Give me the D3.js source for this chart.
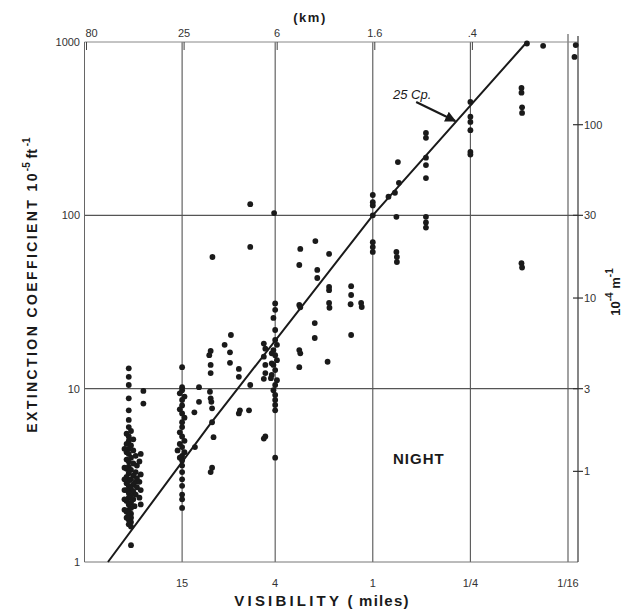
<!DOCTYPE html>
<html><head><meta charset="utf-8">
<script src="https://cdn.jsdelivr.net/npm/d3@7"></script>
<style>body{margin:0;background:#fff} svg{display:block}</style>
</head><body><svg id="c" width="627" height="612"></svg>
<script>
// ---------- data ----------
const visTicks = [15, 4, 1, 0.25, 0.0625];
const visTickLabels = ["15", "4", "1", "1/4", "1/16"];
const kmTickAt = [60, 15, 4, 1, 0.25];
const kmTickLabels = ["80", "25", "6", "1.6", ".4"];
const extTicks = [1, 10, 100, 1000];
const extTickLabels = ["1", "10", "100", "1000"];
const metricTicks = [1, 3, 10, 30, 100];
const metricTickLabels = ["1", "3", "10", "30", "100"];

// 25 candlepower curve (visibility miles, extinction 1e-5 ft^-1)
const lineVis = [43, 10, 1, 0.112];
const lineExt = [1, 6.3, 100, 1000];

// observations [visibility miles, extinction 1e-5 ft^-1]
const obs30mi = [
  [32,13.1],[32,11.7],[32,10.5],[32,8.8],[32,7.5],[32,6.6],[32,6.0],
  [31,5.7],[33,5.5],[32,5.3],[30,5.1],[32,5.0],[33,4.8],[31,4.7],[32,4.5],[30,4.4],
  [33,4.3],[32,4.2],[29,4.1],[31,4.0],[33,3.9],[32,3.8],[30,3.7],[28.5,3.6],[32,3.55],
  [33,3.45],[31,3.4],[29,3.3],[32,3.25],[30,3.15],[33,3.1],[28.5,3.05],[31,3.0],[32,2.95],
  [29,2.9],[33,2.85],[30,2.8],[32,2.75],[28.5,2.7],[31,2.65],[33,2.6],[30,2.55],[32,2.5],
  [29,2.45],[31,2.4],[32,2.35],[30,2.3],[33,2.25],[31,2.2],[32,2.15],[29.5,2.1],[31,2.05],
  [32,2.0],[33,1.95],[31,1.9],[32,1.85],[31,1.8],[32,1.75],[31,1.7],[32,1.65],[31,1.6],
  [31,1.25],[26,9.7],[26,8.2],
  [27,3.2],[27.5,2.9],[27,2.6],[27.5,2.35],[34,3.0],[34,2.6],[34,2.3],[27,4.2],[34,4.5],[27.5,3.8],
  [34,3.5],[27,2.15],[34,2.0],[33,1.8]
];
const obs15mi = [
  [15,13.3],[15,10.2],[15,9.8],[15.5,9.4],[14.5,9.0],[15,8.6],[15,8.0],[15.5,7.6],[15,7.2],
  [14.5,6.8],[15,6.4],[15,6.0],[15.5,5.6],[15,5.3],[14.5,5.0],[15.5,4.8],[15,4.6],[16,4.4],
  [14.5,4.3],[15,4.1],[15.5,4.0],[15,3.85],[15,3.6],[15,3.3],[15,3.0],[15,2.75],[15,2.45],
  [15,2.3],[15,2.05]
];
const obsMid = [
  [11.8,10.2],[11.8,8.4],[12.6,7.3],[12.5,4.6],
  [10.2,15.6],[10,16.5],[8.2,17.9],[7.5,20.4],[7.6,16.2],[7.6,14.1],[6.7,13.0],[6.7,11.7],
  [10,13.7],[10,12.3],[10.1,9.6],[10,8.8],[9.9,8.4],[9.8,7.7],[9.8,6.4],[9.6,5.25],[9.8,3.5],[10,3.3],
  [6.7,7.2],[5.8,7.5],[6.6,7.5],[5.7,10.5],
  [4.7,18.2],[4.6,17],[4.7,15.3],[4.6,13.7],[4.6,12.3],[4.7,11.4],[4.6,5.3],[4.7,5.15],
  [5.7,116],[4.06,103],[5.7,65.7],[9.75,57.5]
];
const obs4mi = [
  [4,31],[4,28.5],[4.1,25.6],[4,21.8],[4,19.1],[3.9,17.9],[4.1,16.7],[4,15.6],[3.9,14.6],
  [4.1,13.7],[4,12.8],[4.2,12.0],[3.9,11.2],[4,10.5],[4.1,9.8],[4,9.2],[4,8.6],[4,8.05],[4,7.5],
  [4,4.0],[4.2,16],[4.2,14],[4.25,11.5]
];
const obsNear = [
  [2.84,30.4],[2.8,29.5],[2.84,16.7],[2.8,16],[2.84,13.3],[2.28,23.9],[2.28,19.6],[1.9,14.3],
  [2.8,64],[2.84,51.7],[2.26,71],[1.86,59.9],[2.2,48.4],[2.2,43.5],[1.86,38.6],[1.86,37],
  [1.86,31.2],[1.85,29.3],[1.36,39],[1.36,34.7],[1.37,30.7],[1.18,31.2],[1.17,29.6],[1.36,20.4],
  [1,131],[1,119],[1,114],[1,100],[1,70],[1,65.6],[1,61.5],
  [0.715,98],[0.715,61.5],[0.71,57.5],[0.71,53.8],[0.47,98],[0.47,91],[0.47,85],
  [0.8,128],[0.73,135],[0.69,154],[0.70,203],
  [0.47,299],[0.47,280],[0.47,215],[0.47,195],[0.47,164],
  [0.25,451],[0.25,371],[0.25,346],[0.25,310],[0.25,232],[0.25,224],
  [0.121,543],[0.121,510],[0.12,420],[0.12,390],[0.121,53],[0.12,50],
  [0.089,950],[0.112,980],[0.056,960],[0.057,820]
];

// annotation anchors (data space)
const cpLabel = {text: "25 Cp.", vis: 0.75, ext: 470};
const cpArrow = {fromVis: 0.54, fromExt: 451, toVis: 0.31, toExt: 350};
const nightLabel = {text: "NIGHT", vis: 0.52, ext: 4};

// ---------- drawing ----------
(function () {
const svg = d3.select("#c");
const pLeft = 84.5, pRightGrid = 568, pRightAxis = 578, pTop = 42, pBottom = 562;

const x = d3.scaleLog().domain([60, 0.0625]).range([pLeft, pRightGrid]);
const y = d3.scaleLog().domain([1, 1000]).range([pBottom, pTop]);
const yM = d3.scaleLog().domain([0.3, 300]).range([pBottom, pTop]);

const font = "'Liberation Sans', Arial, sans-serif";
const ink = "#1a1a1a";

const g = svg.append("g");
g.selectAll("line.vgrid").data(visTicks).join("line")
  .attr("x1", d => x(d)).attr("x2", d => x(d))
  .attr("y1", (d, i) => i === visTicks.length - 1 ? pTop - 8 : pTop).attr("y2", pBottom)
  .attr("stroke", "#555").attr("stroke-width", 1.1);
g.selectAll("line.hgrid").data([10, 100]).join("line")
  .attr("x1", pLeft).attr("x2", pRightAxis)
  .attr("y1", d => y(d)).attr("y2", d => y(d))
  .attr("stroke", "#555").attr("stroke-width", 1.1);
g.append("line").attr("x1", pLeft).attr("x2", pRightAxis).attr("y1", y(1000)).attr("y2", y(1000))
  .attr("stroke", "#888").attr("stroke-width", 1);
g.append("line").attr("x1", pLeft).attr("x2", pRightAxis).attr("y1", y(1)).attr("y2", y(1))
  .attr("stroke", "#777").attr("stroke-width", 1);
g.append("line").attr("x1", pLeft).attr("x2", pLeft).attr("y1", pTop).attr("y2", pBottom)
  .attr("stroke", "#666").attr("stroke-width", 1);
g.append("line").attr("x1", pRightAxis).attr("x2", pRightAxis).attr("y1", pTop - 6).attr("y2", pBottom)
  .attr("stroke", "#444").attr("stroke-width", 1.3);

g.selectAll("line.kmt").data(kmTickAt).join("line")
  .attr("x1", d => x(d) + 2).attr("x2", d => x(d) + 2).attr("y1", pTop).attr("y2", pTop + 8)
  .attr("stroke", "#444").attr("stroke-width", 1);

g.selectAll("line.mt").data(metricTicks).join("line")
  .attr("x1", pRightAxis - 5).attr("x2", pRightAxis + 5)
  .attr("y1", d => yM(d)).attr("y2", d => yM(d))
  .attr("stroke", "#333").attr("stroke-width", 1.2);

svg.selectAll("text.xb").data(visTicks).join("text")
  .attr("x", d => x(d)).attr("y", 587).attr("text-anchor", "middle")
  .attr("font-family", font).attr("font-size", 11).attr("fill", "#333")
  .text((d, i) => visTickLabels[i]);
svg.selectAll("text.xt").data(kmTickAt).join("text")
  .attr("x", (d, i) => x(d) + (i === 0 ? 7 : 2)).attr("y", 37).attr("text-anchor", "middle")
  .attr("font-family", font).attr("font-size", 11).attr("fill", "#333")
  .text((d, i) => kmTickLabels[i]);
svg.selectAll("text.yl").data(extTicks).join("text")
  .attr("x", 80).attr("y", d => y(d) + 4).attr("text-anchor", "end")
  .attr("font-family", font).attr("font-size", 11).attr("fill", "#333")
  .text((d, i) => extTickLabels[i]);
svg.selectAll("text.yr").data(metricTicks).join("text")
  .attr("x", pRightAxis + 6).attr("y", d => yM(d) + 4).attr("text-anchor", "start")
  .attr("font-family", font).attr("font-size", 11).attr("fill", "#333")
  .text((d, i) => metricTickLabels[i]);

svg.append("text").attr("x", 310).attr("y", 22).attr("text-anchor", "middle")
  .attr("font-family", font).attr("font-size", 13).attr("font-weight", "bold")
  .attr("letter-spacing", 1.5).attr("fill", ink).text("(km)");

const xt = svg.append("text").attr("x", 322).attr("y", 606).attr("text-anchor", "middle")
  .attr("font-family", font).attr("font-size", 15).attr("fill", ink).attr("font-weight", "bold");
xt.append("tspan").attr("letter-spacing", 3.2).text("VISIBILITY");
xt.append("tspan").attr("letter-spacing", 1.2).text("  ( miles)");

const yt = svg.append("text").attr("transform", "translate(37,285) rotate(-90)")
  .attr("text-anchor", "middle").attr("font-family", font).attr("font-size", 14)
  .attr("fill", ink).attr("font-weight", "bold");
yt.append("tspan").attr("letter-spacing", 2.4).text("EXTINCTION  COEFFICIENT   10");
yt.append("tspan").attr("font-size", 10).attr("dy", -7).text("-5");
yt.append("tspan").attr("dy", 7).text("   ft");
yt.append("tspan").attr("font-size", 10).attr("dy", -7).text("  -1");

const yr = svg.append("text").attr("transform", "translate(620,292) rotate(-90)")
  .attr("text-anchor", "middle").attr("font-family", font).attr("font-size", 13)
  .attr("fill", ink).attr("font-weight", "bold");
yr.append("tspan").text("10");
yr.append("tspan").attr("font-size", 10).attr("dy", -7).text("-4");
yr.append("tspan").attr("dy", 7).text(" m");
yr.append("tspan").attr("font-size", 10).attr("dy", -7).text("-1");

const line = d3.line().x(d => x(d[0])).y(d => y(d[1]));
svg.append("path").datum(lineVis.map((v, i) => [v, lineExt[i]]))
  .attr("d", line).attr("fill", "none").attr("stroke", ink).attr("stroke-width", 2);

const allObs = [].concat(obs30mi, obs15mi, obsMid, obs4mi, obsNear);
svg.append("g").selectAll("circle").data(allObs).join("circle")
  .attr("cx", d => x(d[0])).attr("cy", d => y(d[1])).attr("r", 2.9).attr("fill", ink);

svg.append("defs").append("marker").attr("id", "ah").attr("viewBox", "0 0 10 10")
  .attr("refX", 9).attr("refY", 5).attr("markerWidth", 5).attr("markerHeight", 5)
  .attr("orient", "auto").append("path").attr("d", "M0,0 L10,5 L0,10 z").attr("fill", ink);
svg.append("line")
  .attr("x1", x(cpArrow.fromVis)).attr("y1", y(cpArrow.fromExt))
  .attr("x2", x(cpArrow.toVis)).attr("y2", y(cpArrow.toExt))
  .attr("stroke", ink).attr("stroke-width", 2.2).attr("marker-end", "url(#ah)");
svg.append("text").attr("x", x(cpLabel.vis)).attr("y", y(cpLabel.ext))
  .attr("font-family", font).attr("font-size", 13).attr("font-style", "italic")
  .attr("fill", ink).text(cpLabel.text);
svg.append("text").attr("x", x(nightLabel.vis)).attr("y", y(nightLabel.ext) + 6)
  .attr("text-anchor", "middle").attr("font-family", font).attr("font-size", 15)
  .attr("font-weight", "bold").attr("letter-spacing", 1).attr("fill", ink).text(nightLabel.text);
})();
</script></body></html>
